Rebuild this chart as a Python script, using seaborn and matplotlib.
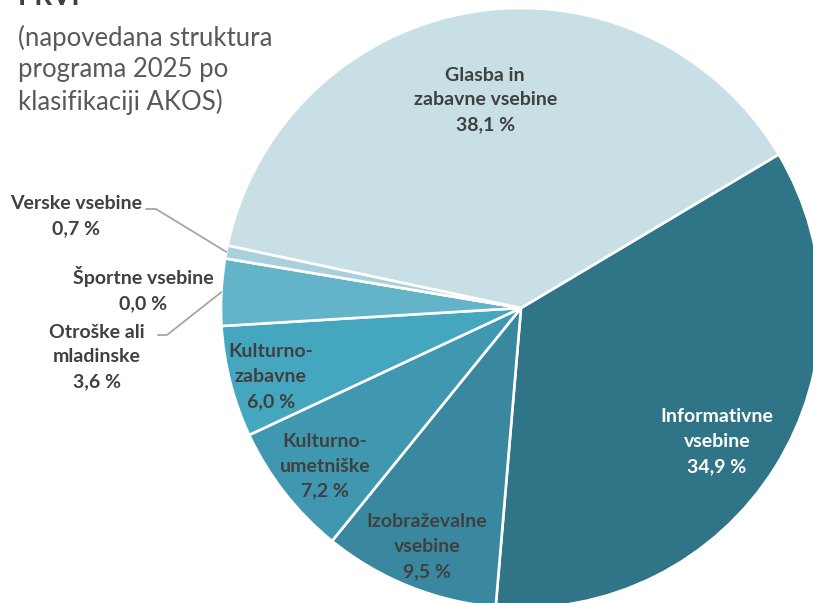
import numpy as np
import seaborn as sns
import matplotlib.pyplot as plt

sns.set_theme(style="white")
plt.rcParams['font.family'] = ['Lato', 'DejaVu Sans']

# data (clockwise from the top-right boundary)
categories = ["Informativne\nvsebine", "Izobraževalne\nvsebine", "Kulturno-\numetniške",
              "Kulturno-\nzabavne", "Otroške ali\nmladinske", "Športne vsebine",
              "Verske vsebine", "Glasba in\nzabavne vsebine"]
shares = [34.9, 9.5, 7.2, 6.0, 3.6, 0.0, 0.7, 38.1]
colors = ["#2F7587", "#3A889F", "#3F98B0", "#45A6BF", "#63B3C9", "#86C2D3", "#A8D1DD", "#C8DFE6"]

title = "PRVI"
subtitle = ["(napovedana struktura", "programa 2025 po", "klasifikaciji AKOS)"]

label_col = "#404040"
W, H = 813, 603
cx, cy, R = 521, 308, 300  # pixel centre / radius of pie

fig = plt.figure(figsize=(W / 100, H / 100), dpi=100)
ax = fig.add_axes([0, 0, 1, 1])

start = 30.8
wedges, _ = ax.pie(shares, colors=sns.color_palette(colors), startangle=start,
                   counterclock=False, radius=1.0,
                   wedgeprops=dict(edgecolor="white", linewidth=1.9))
ax.set_aspect("auto")
ax.set_xlim(-cx / R, (W - cx) / R)
ax.set_ylim(-(H - cy) / R, cy / R)
ax.axis("off")

def fmt(v):
    return ("%.1f" % v).replace(".", ",") + " %"

fs = 14
ls = 1.56

# inside labels: radial distance + small pixel nudge per wedge
inside = {0: (0.79, -5, 8), 1: (0.84, 0, 5), 2: (0.83, 0, 5), 3: (0.86, 0, 5), 7: (0.71, -1, 2)}
for i, w in enumerate(wedges):
    mid = np.deg2rad((w.theta1 + w.theta2) / 2)
    if i in inside:
        r, ddx, ddy = inside[i]
        ax.text(r * np.cos(mid) + ddx / R, r * np.sin(mid) - ddy / R,
                categories[i] + "\n" + fmt(shares[i]),
                ha="center", va="center", fontsize=fs, fontweight="bold",
                color="white" if i == 0 else label_col, linespacing=ls)

def px(x, y):
    return (x - cx) / R, (cy - y) / R

# outside labels with leader lines
lead = "#A6A6A6"
# Verske
ax.text(*px(76, 216), categories[6] + "\n" + fmt(shares[6]), ha="center", va="center",
        fontsize=fs, fontweight="bold", color=label_col, linespacing=ls)
mid = np.deg2rad((wedges[6].theta1 + wedges[6].theta2) / 2)
p0 = px(146, 209); p1 = px(156, 209)
ax.plot([p0[0], p1[0], np.cos(mid)], [p0[1], p1[1], np.sin(mid)], color=lead, lw=1.3)
# Športne
ax.text(*px(143, 289), categories[5] + "\n" + fmt(shares[5]), ha="center", va="center",
        fontsize=fs, fontweight="bold", color=label_col, linespacing=ls)
# Otroške
ax.text(*px(97, 357), categories[4] + "\n" + fmt(shares[4]), ha="center", va="center",
        fontsize=fs, fontweight="bold", color=label_col, linespacing=ls)
mid = np.deg2rad((wedges[4].theta1 + wedges[4].theta2) / 2)
p0 = px(158, 335); p1 = px(167, 335)
ax.plot([p0[0], p1[0], np.cos(mid)], [p0[1], p1[1], np.sin(mid)], color=lead, lw=1.3)

# title (cut off at the top in the original)
ax.text(*px(18, 5), title, ha="left", va="baseline", fontsize=20, fontweight="bold", color="#404040")
for k, line in enumerate(subtitle):
    ax.text(*px(18, 38 + 32 * k), line, ha="left", va="center", fontsize=18.5, color="#595959")

plt.savefig("out.png", dpi=100)
